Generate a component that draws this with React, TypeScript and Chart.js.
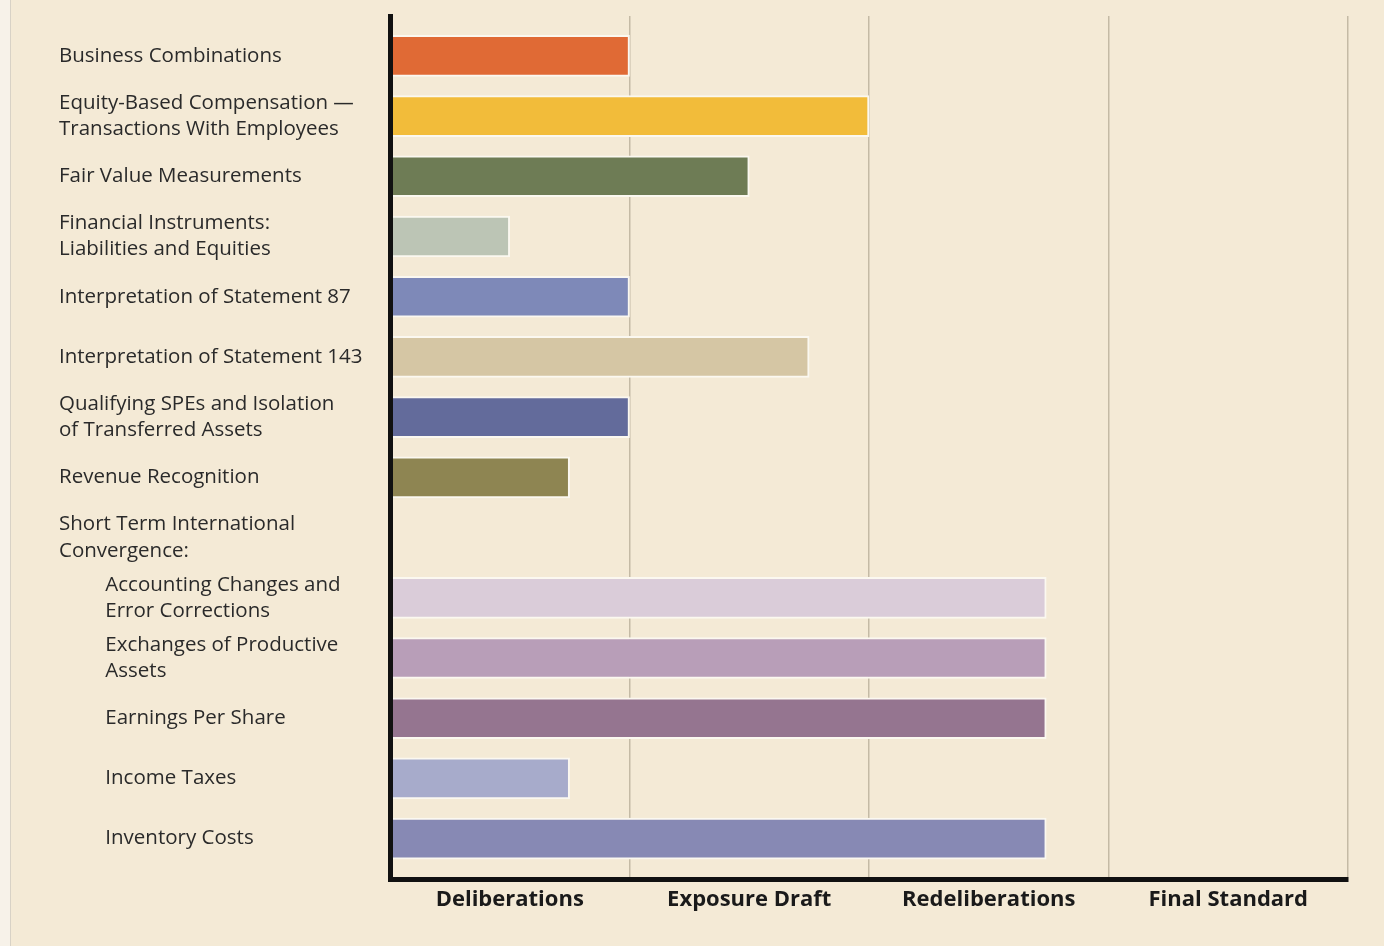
import React, { useEffect, useRef } from "react";
import { Chart, registerables } from "chart.js";

Chart.register(...registerables);

const IND = "\u2003\u2003 ";

const categories: (string | string[])[] = [
  "Business Combinations",
  ["Equity-Based Compensation —", "Transactions With Employees"],
  "Fair Value Measurements",
  ["Financial Instruments:", "Liabilities and Equities"],
  "Interpretation of Statement 87",
  "Interpretation of Statement 143",
  ["Qualifying SPEs and Isolation", "of Transferred Assets"],
  "Revenue Recognition",
  ["Short Term International", "Convergence:"],
  [IND + "Accounting Changes and", IND + "Error Corrections"],
  [IND + "Exchanges of Productive", IND + "Assets"],
  IND + "Earnings Per Share",
  IND + "Income Taxes",
  IND + "Inventory Costs",
];

const progress: (number | null)[] = [1, 2, 1.5, 0.5, 1, 1.75, 1, 0.75, null, 2.74, 2.74, 2.74, 0.75, 2.74];

const barColors = [
  "#E06A35",
  "#F2BC3A",
  "#6E7C55",
  "#BCC5B5",
  "#7E89B8",
  "#D5C6A4",
  "#636B9B",
  "#8E8552",
  "#000000",
  "#DACCD9",
  "#B89EB8",
  "#957590",
  "#A7ABCB",
  "#8789B4",
];

const stageLabels = ["Deliberations", "Exposure Draft", "Redeliberations", "Final Standard"];

export default function App() {
  const ref = useRef<HTMLCanvasElement | null>(null);

  useEffect(() => {
    if (!ref.current) return;
    const points: { x: number; y: number }[] = [];
    const cols: string[] = [];
    progress.forEach((v, i) => {
      if (v !== null) {
        points.push({ x: v, y: i });
        cols.push(barColors[i]);
      }
    });
    const chart = new Chart(ref.current, {
      type: "bar",
      data: {
        datasets: [
          {
            data: points as any,
            backgroundColor: cols,
            borderColor: "#FBF8F0",
            borderWidth: 2,
            borderSkipped: false,
            barThickness: 41,
          },
        ],
      },
      options: {
        indexAxis: "y",
        animation: false,
        responsive: false,
        maintainAspectRatio: false,
        layout: { padding: { left: 59, top: 16, right: 36, bottom: 0 } },
        plugins: { legend: { display: false }, tooltip: { enabled: false } },
        scales: {
          x: {
            type: "linear",
            min: 0,
            max: 4,
            offset: false,
            afterBuildTicks: (scale: any) => {
              scale.ticks = stageLabels.map((_, i) => ({ value: i + 0.5 }));
            },
            afterFit: (scale: any) => {
              scale.height = 67;
            },
            grid: {
              offset: true,
              color: "#C4BAA5",
              lineWidth: 1.5,
              drawTicks: false,
            },
            border: { display: true, color: "#111111", width: 5, z: 1 },
            ticks: {
              padding: 8,
              color: "#1A1A1A",
              font: { family: "'Open Sans', sans-serif", size: 22, weight: "bold" },
              callback: (v: any) => stageLabels[Math.floor(Number(v))] ?? "",
            },
          },
          y: {
            type: "linear",
            reverse: true,
            offset: false,
            min: -0.66,
            max: 13.67,
            afterBuildTicks: (scale: any) => {
              scale.ticks = categories.map((_, i) => ({ value: i }));
            },
            afterFit: (scale: any) => {
              scale.width = 390 - 59;
            },
            grid: { display: false, drawTicks: false, offset: false },
            border: { display: true, color: "#111111", width: 5, z: 1 },
            ticks: {
              crossAlign: "far",
              color: "#2A2A2A",
              autoSkip: false,
              font: { family: "'Open Sans', sans-serif", size: 20.5, lineHeight: 1.28 },
              callback: (v: any) => categories[Number(v)] ?? "",
            },
          },
        },
      },
    } as any);
    return () => chart.destroy();
  }, []);

  return (
    <div
      style={{
        position: "absolute",
        left: 0,
        top: 0,
        width: 1384,
        height: 946,
        background: "#F4EAD6",
        overflow: "hidden",
      }}
    >
      <div
        style={{
          position: "absolute",
          left: 0,
          top: 0,
          width: 10,
          height: 946,
          background: "#F7F2E9",
          borderRight: "1px solid #D8D2C6",
        }}
      />
      <canvas ref={ref} width={1384} height={946} style={{ position: "absolute", left: 0, top: 0 }} />
    </div>
  );
}
